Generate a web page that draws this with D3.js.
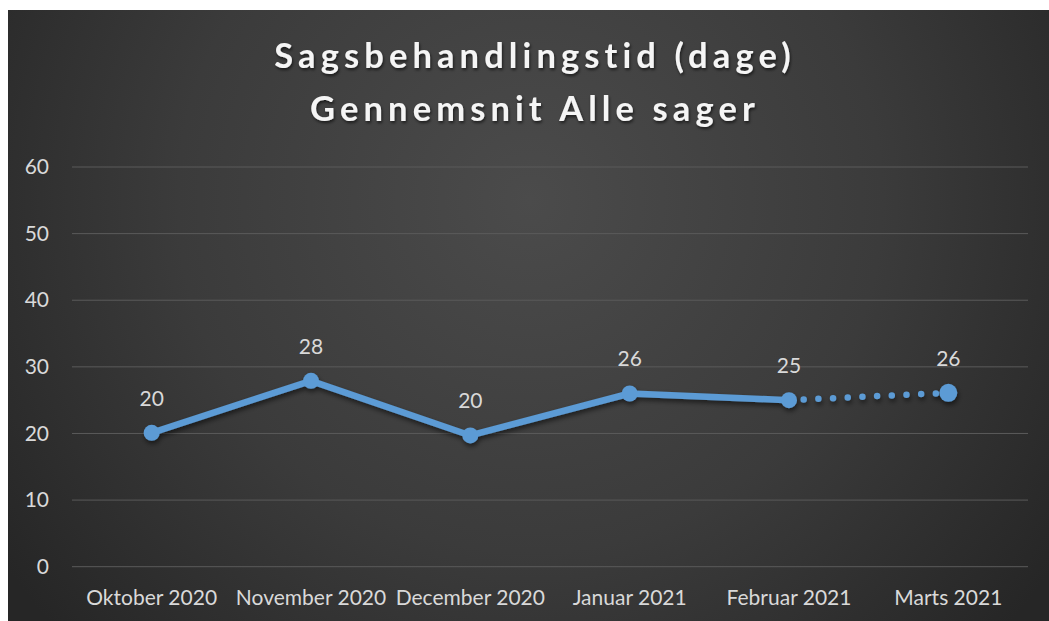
<!DOCTYPE html>
<html>
<head>
<meta charset="utf-8">
<script src="https://cdn.jsdelivr.net/npm/d3@7"></script>
<style>
  html, body { margin: 0; padding: 0; background: #fff; }
  svg { display: block; }
</style>
</head>
<body>
<div id="chart"></div>
<script>
const titleLines = ['Sagsbehandlingstid (dage)', 'Gennemsnit Alle sager']
const months = ['Oktober 2020', 'November 2020', 'December 2020', 'Januar 2021', 'Februar 2021', 'Marts 2021']
const days = [20.1, 27.9, 19.7, 26.0, 25.0, 26.1]
const dayLabels = ['20', '28', '20', '26', '25', '26']
const yTicks = [0, 10, 20, 30, 40, 50, 60]

const W = 1049, H = 621
const margin = { top: 167, right: 21, bottom: 55, left: 72 }
const font = 'Lato, "Noto Sans", sans-serif'

const svg = d3.select('#chart').append('svg')
  .attr('width', W).attr('height', H)

const defs = svg.append('defs')
const grad = defs.append('radialGradient')
  .attr('id', 'bg').attr('gradientUnits', 'userSpaceOnUse')
  .attr('cx', 530).attr('cy', 200).attr('r', 640)
grad.append('stop').attr('offset', '0%').attr('stop-color', '#4b4b4b')
grad.append('stop').attr('offset', '55%').attr('stop-color', '#3b3b3b')
grad.append('stop').attr('offset', '100%').attr('stop-color', '#262626')

const shadow = defs.append('filter').attr('id', 'shadow')
  .attr('x', '-10%').attr('y', '-30%').attr('width', '120%').attr('height', '160%')
shadow.append('feDropShadow').attr('dx', 1).attr('dy', 3).attr('stdDeviation', 2.5)
  .attr('flood-color', '#000').attr('flood-opacity', 0.55)

const tshadow = defs.append('filter').attr('id', 'tshadow')
tshadow.append('feDropShadow').attr('dx', 1).attr('dy', 2).attr('stdDeviation', 1.5)
  .attr('flood-color', '#000').attr('flood-opacity', 0.6)

svg.append('rect').attr('x', 8).attr('y', 10).attr('width', W - 8).attr('height', H - 10)
  .attr('fill', 'url(#bg)')

// title
const title = svg.append('text')
  .attr('text-anchor', 'middle')
  .style('font-family', font).style('font-weight', 700)
  .style('font-size', '34.5px').style('letter-spacing', '5.1px')
  .attr('fill', '#f5f5f5').attr('filter', 'url(#tshadow)')
titleLines.forEach((t, i) => {
  title.append('tspan').attr('x', 535).attr('y', 68 + i * 53).text(t)
})

const x = d3.scaleBand().domain(months).range([margin.left, W - margin.right])
const y = d3.scaleLinear().domain([0, 60]).range([H - margin.bottom + 0.7, margin.top])

// gridlines
svg.append('g').selectAll('line').data(yTicks).join('line')
  .attr('x1', margin.left).attr('x2', W - margin.right)
  .attr('y1', d => y(d)).attr('y2', d => y(d))
  .attr('stroke', '#5a5a5a').attr('stroke-width', 1)

// y axis
const yAxis = svg.append('g')
  .attr('transform', `translate(${margin.left - 23},0)`)
  .call(d3.axisLeft(y).tickValues(yTicks).tickSize(0).tickPadding(0))
yAxis.select('.domain').remove()
yAxis.selectAll('text')
  .style('font-family', font).style('font-size', '21px').attr('fill', '#d9d9d9')

// x axis
const xAxis = svg.append('g')
  .attr('transform', `translate(0,${y(0)})`)
  .call(d3.axisBottom(x).tickSize(0).tickPadding(23))
xAxis.select('.domain').remove()
xAxis.selectAll('text')
  .style('font-family', font).style('font-size', '21px').attr('fill', '#d9d9d9')

const pts = months.map((m, i) => [x(m) + x.bandwidth() / 2, y(days[i])])
const line = d3.line()

const series = svg.append('g').attr('filter', 'url(#shadow)')
series.append('path')
  .attr('d', line(pts.slice(0, 5)))
  .attr('fill', 'none').attr('stroke', '#5b9bd5')
  .attr('stroke-width', 6.5).attr('stroke-linejoin', 'round')
series.append('path')
  .attr('d', line(pts.slice(4)))
  .attr('fill', 'none').attr('stroke', '#5b9bd5')
  .attr('stroke-width', 6.5).attr('stroke-linecap', 'round')
  .attr('stroke-dasharray', '0,14.7')
series.selectAll('circle').data(pts).join('circle')
  .attr('cx', d => d[0]).attr('cy', d => d[1])
  .attr('r', (d, i) => i === pts.length - 1 ? 9 : 8)
  .attr('fill', '#5b9bd5')

// data labels
svg.append('g').selectAll('text').data(pts).join('text')
  .attr('x', d => d[0]).attr('y', d => d[1] - 27)
  .attr('text-anchor', 'middle')
  .style('font-family', font).style('font-size', '21px').attr('fill', '#d9d9d9')
  .text((d, i) => dayLabels[i])
</script>
</body>
</html>
